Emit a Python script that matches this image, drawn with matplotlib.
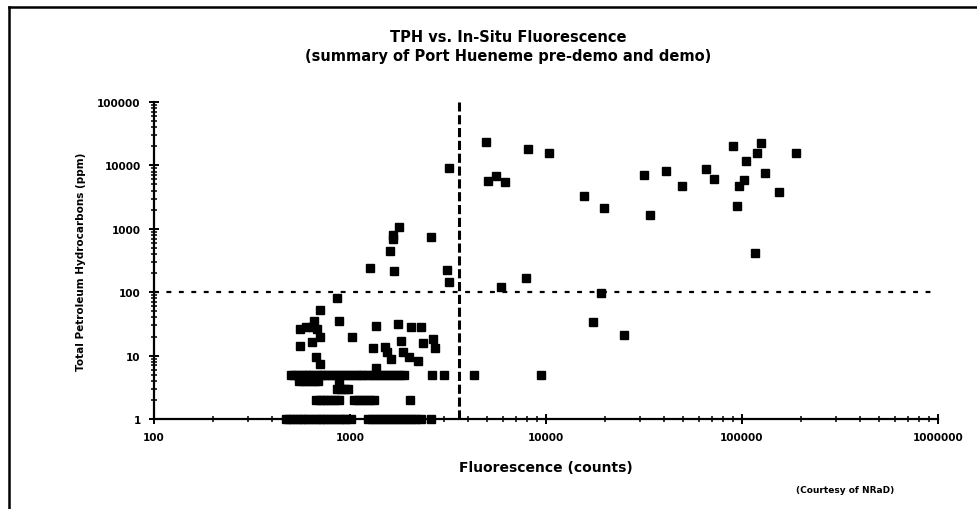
import numpy as np
import matplotlib
matplotlib.use('Agg')
import matplotlib.pyplot as plt
import matplotlib.ticker as ticker
from matplotlib.lines import Line2D

plt.rcParams['font.family'] = ['DejaVu Sans']
plt.rcParams['font.weight'] = 'bold'

# scattered readings (fluorescence counts, TPH ppm)
upperX = [4940, 3185, 5080, 5560, 6180, 8070, 10300, 15700, 19700, 31800, 33800, 41100, 49600,
          65800, 71700, 90400, 94700, 97000, 102000, 104500, 117000, 119000, 125000, 131000,
          154000, 189000]
upperY = [23400, 9000, 5750, 6900, 5400, 18200, 15500, 3330, 2150, 7100, 1660, 8030, 4730,
          8770, 6100, 20400, 2320, 4790, 5960, 11900, 420, 15900, 22300, 7500, 3760, 15500]

midX = [5890, 7950, 19100, 17400, 25000, 4270, 9440, 2590, 3130, 3215, 2630, 3020]
midY = [122, 166, 96, 34, 21, 5, 5, 750, 226, 143, 5, 5]

leftX = [1270, 1670, 1600, 1650, 1650, 1770, 859, 700, 658, 637, 597, 558, 676, 881, 703, 638,
         558, 1019, 1360, 1750, 2050, 2290, 1810, 2370, 2660, 2720, 1306, 1500, 1550, 1610,
         1860, 2010, 2230, 671, 700, 1360]
leftY = [238, 219, 452, 690, 800, 1070, 81, 53, 35, 28.5, 28.5, 26, 26, 35, 19.5, 16.2,
         14.4, 19.5, 29.6, 31.6, 28, 28, 16.8, 15.8, 18.3, 13, 13, 13.5, 11.3, 9,
         11.3, 9.4, 8.1, 9.4, 7.4, 6.3]

# rows of samples at the detection-limit values
row5X = [500, 520, 545, 570, 595, 620, 650, 680, 710, 740, 775, 810, 850, 890, 930, 975,
         1020, 1070, 1120, 1170, 1230, 1290, 1350, 1420, 1490, 1560, 1640, 1720, 1800, 1890]
row4X = [550, 575, 600, 630, 660, 690]
row38X = [880]
row3X = [860, 900, 940, 980]
row2X = [671, 700, 730, 760, 800, 840, 880, 1050, 1100, 1150, 1210, 1270, 1320, 2030]
row1X = [470, 490, 512, 535, 560, 585, 612, 640, 670, 700, 732, 765, 800, 838, 876, 916, 958,
         1010, 1230, 1290, 1350, 1420, 1490, 1560, 1640, 1720, 1800, 1890, 1980, 2080, 2180,
         2290, 2580]

fluorCutoff = 3600   # vertical dashed line
tphCutoff = 100      # horizontal dotted line

xs = upperX + midX + leftX + row5X + row4X + row38X + row3X + row2X + row1X
ys = (upperY + midY + leftY + [5] * len(row5X) + [4] * len(row4X) + [3.8] * len(row38X)
      + [3] * len(row3X) + [2] * len(row2X) + [1] * len(row1X))

fig = plt.figure(figsize=(9.77, 5.10), dpi=100)
ax = fig.add_axes([154 / 977, 1 - 420 / 510, (938 - 154) / 977, (420 - 103) / 510])

ax.plot(xs, ys, 's', color='black', markersize=5.2, clip_on=False, zorder=3)

ax.set_xscale('log')
ax.set_yscale('log')
ax.set_xlim(100, 1000000)
ax.set_ylim(1, 100000)

ax.axvline(fluorCutoff, color='black', lw=2.2, linestyle=(0, (3, 1.2)), zorder=2)
ax.axhline(tphCutoff, color='black', lw=1.6, linestyle=(0, (2.2, 3.4)), zorder=2)

for s in ['top', 'right']:
    ax.spines[s].set_visible(False)
for s in ['left', 'bottom']:
    ax.spines[s].set_linewidth(1.6)

ax.xaxis.set_major_locator(ticker.LogLocator(base=10, numticks=10))
ax.yaxis.set_major_locator(ticker.LogLocator(base=10, numticks=10))
ax.xaxis.set_minor_locator(ticker.LogLocator(base=10, subs=np.arange(2, 10), numticks=20))
ax.yaxis.set_minor_locator(ticker.LogLocator(base=10, subs=np.arange(2, 10), numticks=20))
ax.xaxis.set_major_formatter(ticker.FuncFormatter(lambda v, p: '%d' % round(v)))
ax.yaxis.set_major_formatter(ticker.FuncFormatter(lambda v, p: '%d' % round(v)))
ax.xaxis.set_minor_formatter(ticker.NullFormatter())
ax.yaxis.set_minor_formatter(ticker.NullFormatter())
ax.tick_params(which='major', direction='inout', length=7, width=1.4, labelsize=7.5, pad=6)
ax.tick_params(which='minor', direction='inout', length=4, width=1.1)
for lab in ax.get_xticklabels() + ax.get_yticklabels():
    lab.set_fontweight('bold')

ax.set_xlabel('Fluorescence (counts)', fontsize=10, fontweight='bold', labelpad=13)
ax.set_ylabel('Total Petroleum Hydrocarbons (ppm)', fontsize=7.5, fontweight='bold', labelpad=8)

fig.text(0.52, 1 - 37 / 510, 'TPH vs. In-Situ Fluorescence', ha='center', va='center',
         fontsize=10.5, fontweight='bold')
fig.text(0.52, 1 - 56 / 510, '(summary of Port Hueneme pre-demo and demo)', ha='center',
         va='center', fontsize=10.5, fontweight='bold')
fig.text(0.865, 1 - 491 / 510, '(Courtesy of NRaD)', ha='center', va='center',
         fontsize=6.5, fontweight='bold')

# page frame (top and left edges of the scanned box)
fig.add_artist(Line2D([9 / 977, 9 / 977], [0, 1 - 8 / 510], color='black', lw=1.8))
fig.add_artist(Line2D([9 / 977, 1], [1 - 8 / 510, 1 - 8 / 510], color='black', lw=1.8))

fig.savefig('out.png', dpi=100)
